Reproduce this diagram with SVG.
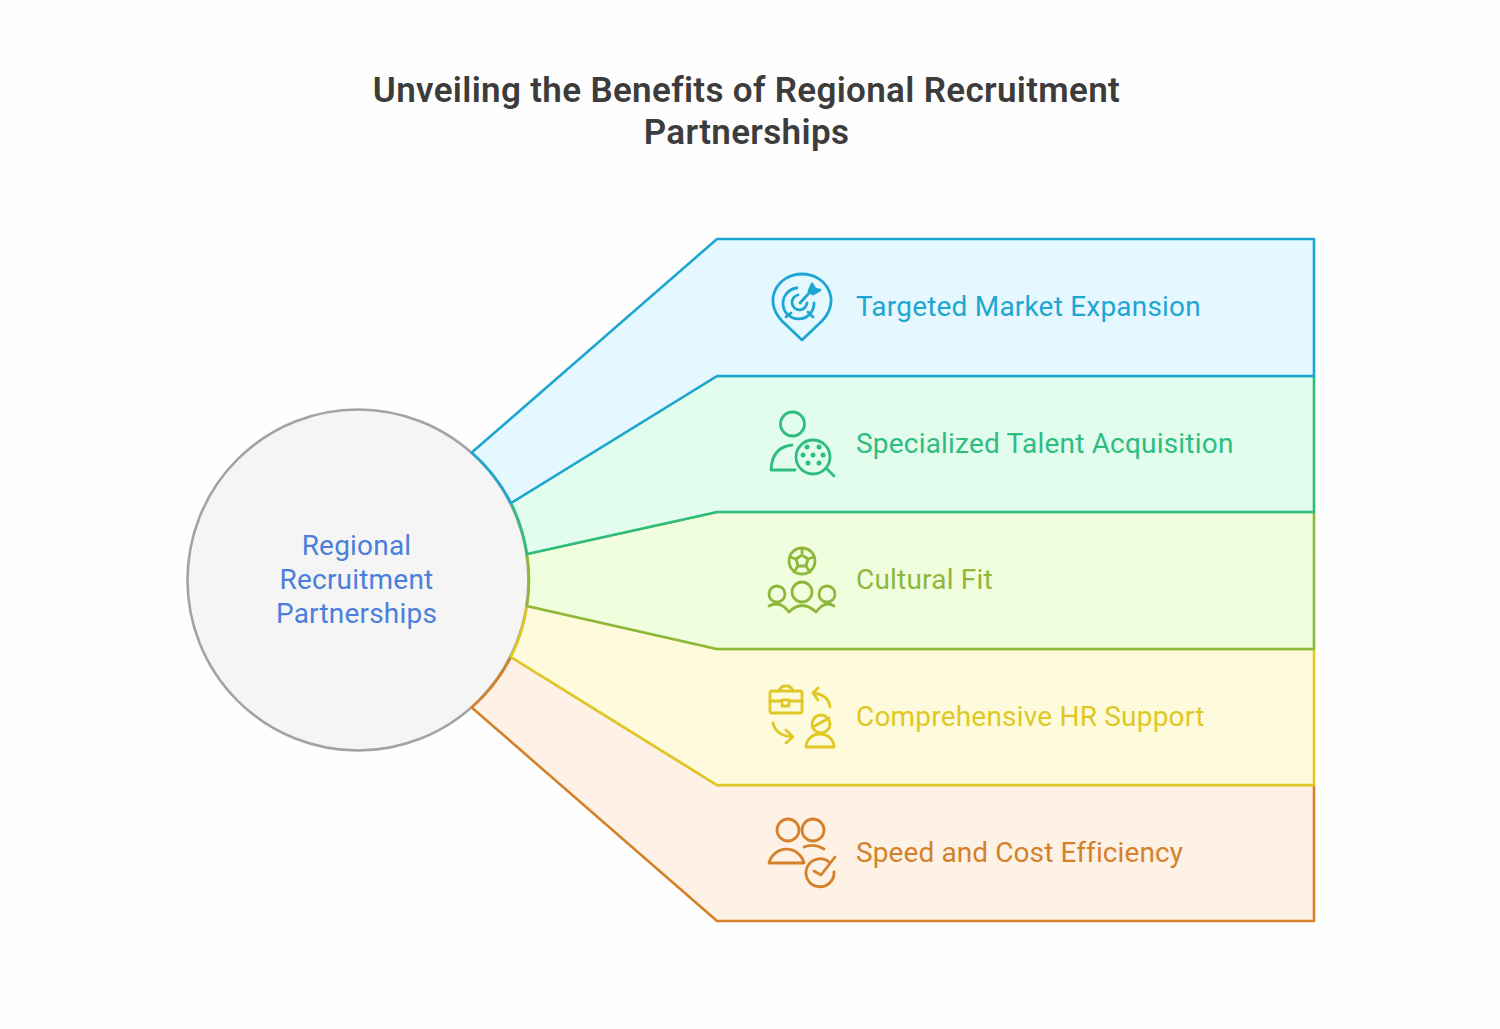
<svg xmlns="http://www.w3.org/2000/svg" width="1500" height="1029" viewBox="0 0 1500 1029">
<style>
text{font-family:Roboto,"Liberation Sans",sans-serif}
.title{font-size:35px;font-weight:600;fill:#3c3c3c;text-anchor:middle;letter-spacing:.33px}
.lab{font-size:28px;letter-spacing:.2px}
.lab.tight{letter-spacing:.1px}
.seg{stroke-width:2.6;stroke-linejoin:round}
.ic{fill:none;stroke-width:2.8;stroke-linecap:round;stroke-linejoin:round}
.blue{stroke:#1ea6d3}.green{stroke:#2fbd7e}.lime{stroke:#8db83a}.yellow{stroke:#dfc823}.orange{stroke:#d5812a}
</style>
<rect width="1500" height="1029" fill="#fefefe"/>
<g id="title"><text class="title" x="746.500" y="102">Unveiling the Benefits of Regional Recruitment</text><text class="title" x="746.500" y="144">Partnerships</text></g>
<g id="center"><circle cx="358" cy="580" r="170.500" fill="#f5f5f5" stroke="#a3a3a3" stroke-width="2.6"/>
<g font-size="28" fill="#4a7fdb" text-anchor="middle" letter-spacing=".2"><text x="356.500" y="555">Regional</text><text x="356.500" y="589">Recruitment</text><text x="356.500" y="623">Partnerships</text></g></g>
<g id="speed-cost">
<path class="seg orange" fill="#fef1e5" d="M511 657L717 785H1314V921H717L471.700 707.500A170.500 170.500 0 0 0 511 657Z"/>
<g class="ic orange"><circle cx="788" cy="830" r="11"/><circle cx="813" cy="830" r="11"/><path d="M769 863A18 18 0 0 1 804 863Z"/><path d="M804 847Q814 843 824 849"/><path d="M829 862A14 14 0 1 0 834 872"/><path d="M814 871L821 875L835 857"/></g>
<text class="lab tight" x="856" y="862" fill="#d5812a">Speed and Cost Efficiency</text></g>
<g id="hr-support">
<path class="seg yellow" fill="#fefbdd" d="M527 606L717 649H1314V785H717L511 657A170.500 170.500 0 0 0 527 606Z"/>
<g class="ic yellow"><rect x="770" y="691" width="32" height="22" rx="2"/><path d="M770 701H782M790 701H802M779 691Q781 686 785 686H787Q791 686 793 691"/><rect x="782" y="700" width="7" height="6"/><path d="M830 707Q829 695 813 693M818 688L813 693L818 700"/><path d="M773 723Q776 736 793 737M786 730L793 737L786 743"/><circle cx="821" cy="724" r="9"/><path d="M813 727L829 718"/><path d="M806 747A14 13 0 0 1 834 747Z"/></g>
<text class="lab" x="856" y="726" fill="#dfc823">Comprehensive HR Support</text></g>
<g id="cultural-fit">
<path class="seg lime" fill="#f1fede" d="M527 554L717 512H1314V649H717L527 606A170.500 170.500 0 0 0 527 554Z"/>
<g class="ic lime"><circle cx="802" cy="561" r="13"/><path d="M802 555L808 559L806 566H798L796 559ZM802 555V549M808 559L814 557M806 566L810 572M798 566L794 572M796 559L790 557"/><circle cx="802" cy="592" r="10"/><circle cx="777" cy="594" r="8"/><circle cx="827" cy="594" r="8"/><path d="M769 606Q780 600 789 612Q802 599 816 612Q825 600 834 606"/></g>
<text class="lab" x="856" y="589" fill="#8db83a">Cultural Fit</text></g>
<g id="talent">
<path class="seg green" fill="#e2fcee" d="M511 503L717 376H1314V512H717L527 554A170.500 170.500 0 0 0 511 503Z"/>
<g class="ic green"><circle cx="792.500" cy="424" r="12"/><path d="M792 445Q772 447 771 470H795"/><circle cx="813" cy="457" r="17"/><path d="M826 468L834 476"/></g>
<g fill="#2fbd7e"><circle cx="807" cy="447" r="2.500"/><circle cx="819" cy="447" r="2.500"/><circle cx="803" cy="455" r="2.500"/><circle cx="813" cy="455" r="2.500"/><circle cx="823" cy="455" r="2.500"/><circle cx="808" cy="463" r="2.500"/><circle cx="819" cy="463" r="2.500"/></g>
<text class="lab" x="856" y="453" fill="#2fbd7e">Specialized Talent Acquisition</text></g>
<g id="market">
<path class="seg blue" fill="#e6f8ff" d="M471.700 452.500L717 239H1314V376H717L511 503A170.500 170.500 0 0 0 471.700 452.500Z"/>
<g class="ic blue"><path d="M802 340L782 321C762 300 778 274 802 274C826 274 842 300 822 321Z"/><path d="M814 303A15.500 15.500 0 1 1 797 288"/><path d="M807 303A7.500 7.500 0 1 1 798 295"/><path d="M800 303L810 292"/><path d="M812 284L809 291L813 294L820 290L815 289Z" fill="#1ea6d3"/><path d="M786 317L791 313M813 317L808 312"/></g>
<text class="lab" x="856" y="316" fill="#1ea6d3">Targeted Market Expansion</text></g>
</svg>
